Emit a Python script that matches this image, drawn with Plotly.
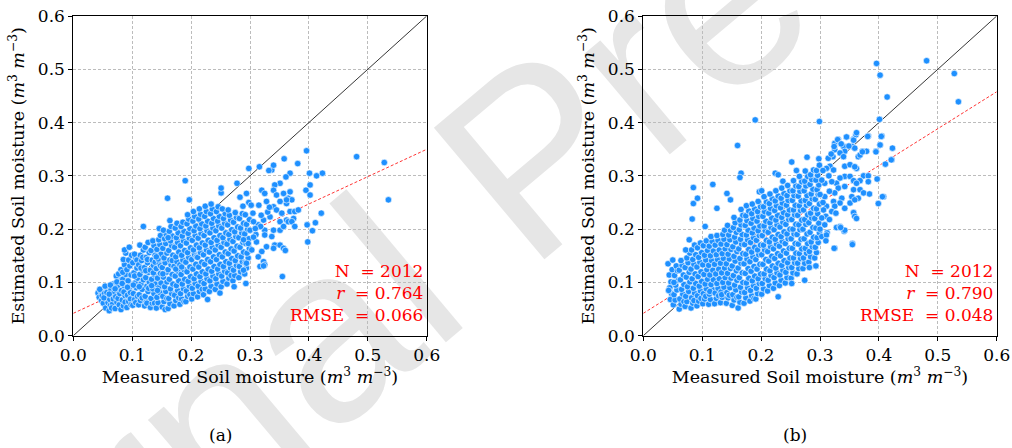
import plotly.graph_objects as go

# ---------------- data ----------------
# panel (a): (measured, estimated) pairs
pts_a = [
 (0.042,0.080),(0.044,0.072),(0.047,0.083),(0.048,0.066),(0.045,0.087),(0.049,0.075),
 (0.051,0.061),(0.053,0.079),(0.055,0.052),(0.056,0.07),(0.058,0.088),(0.054,0.093),(0.059,0.062),(0.052,0.071),(0.057,0.081),
 (0.061,0.047),(0.063,0.057),(0.062,0.068),(0.066,0.075),(0.064,0.086),(0.068,0.097),(0.067,0.06),(0.065,0.052),(0.069,0.082),(0.063,0.095),(0.061,0.078),(0.068,0.069),
 (0.071,0.051),(0.074,0.063),(0.072,0.073),(0.077,0.084),(0.075,0.093),(0.079,0.104),(0.073,0.112),(0.078,0.058),(0.076,0.07),(0.071,0.088),(0.079,0.079),(0.074,0.101),(0.077,0.116),
 (0.081,0.049),(0.085,0.056),(0.083,0.067),(0.088,0.075),(0.082,0.085),(0.086,0.094),(0.084,0.106),(0.089,0.115),(0.081,0.124),(0.087,0.133),(0.085,0.143),(0.088,0.063),(0.083,0.098),(0.086,0.082),(0.089,0.155),(0.087,0.161),(0.084,0.119),
 (0.091,0.053),(0.094,0.064),(0.092,0.076),(0.097,0.069),(0.095,0.088),(0.099,0.096),(0.093,0.103),(0.098,0.114),(0.091,0.124),(0.096,0.131),(0.094,0.142),(0.099,0.151),(0.097,0.081),(0.092,0.091),(0.095,0.166),(0.098,0.058),
 (0.101,0.057),(0.104,0.068),(0.102,0.079),(0.107,0.09),(0.105,0.099),(0.109,0.108),(0.103,0.118),(0.108,0.127),(0.101,0.137),(0.106,0.146),(0.104,0.153),(0.109,0.074),(0.106,0.062),(0.102,0.095),(0.108,0.142),(0.104,0.112),
 (0.111,0.058),(0.114,0.066),(0.112,0.077),(0.117,0.087),(0.115,0.097),(0.119,0.105),(0.113,0.115),(0.118,0.123),(0.111,0.133),(0.116,0.141),(0.114,0.151),(0.119,0.161),(0.112,0.092),(0.117,0.071),(0.115,0.127),(0.118,0.147),(0.119,0.205),(0.113,0.17),
 (0.121,0.056),(0.124,0.064),(0.122,0.074),(0.127,0.083),(0.125,0.093),(0.129,0.101),(0.123,0.109),(0.128,0.119),(0.121,0.128),(0.126,0.137),(0.124,0.147),(0.129,0.156),(0.122,0.166),(0.127,0.175),(0.125,0.061),(0.128,0.089),(0.123,0.122),(0.126,0.143),
 (0.131,0.053),(0.134,0.061),(0.132,0.07),(0.137,0.079),(0.135,0.088),(0.139,0.097),(0.133,0.106),(0.138,0.114),(0.131,0.123),(0.136,0.132),(0.134,0.142),(0.139,0.151),(0.132,0.16),(0.137,0.169),(0.135,0.178),(0.138,0.061),(0.133,0.094),(0.136,0.118),(0.139,0.138),
 (0.141,0.052),(0.144,0.062),(0.142,0.072),(0.147,0.081),(0.145,0.09),(0.149,0.099),(0.143,0.108),(0.148,0.117),(0.141,0.126),(0.146,0.135),(0.144,0.144),(0.149,0.153),(0.142,0.162),(0.147,0.171),(0.145,0.18),(0.148,0.188),(0.146,0.201),(0.143,0.085),(0.148,0.131),(0.141,0.148),
 (0.151,0.054),(0.154,0.064),(0.152,0.074),(0.157,0.083),(0.155,0.092),(0.159,0.101),(0.153,0.11),(0.158,0.119),(0.151,0.128),(0.156,0.137),(0.154,0.146),(0.159,0.155),(0.152,0.164),(0.157,0.173),(0.155,0.182),(0.158,0.19),(0.153,0.198),(0.156,0.049),(0.159,0.07),(0.152,0.116),
 (0.161,0.051),(0.164,0.06),(0.162,0.07),(0.167,0.079),(0.165,0.088),(0.169,0.097),(0.163,0.106),(0.168,0.115),(0.161,0.124),(0.166,0.133),(0.164,0.142),(0.169,0.151),(0.162,0.16),(0.167,0.169),(0.165,0.178),(0.168,0.187),(0.163,0.196),(0.166,0.205),(0.164,0.216),(0.160,0.258),(0.168,0.141),(0.161,0.184),
 (0.171,0.056),(0.174,0.066),(0.172,0.076),(0.177,0.085),(0.175,0.094),(0.179,0.103),(0.173,0.112),(0.178,0.121),(0.171,0.13),(0.176,0.139),(0.174,0.148),(0.179,0.157),(0.172,0.166),(0.177,0.175),(0.175,0.184),(0.178,0.193),(0.173,0.202),(0.176,0.211),(0.179,0.071),(0.174,0.125),
 (0.181,0.059),(0.184,0.069),(0.182,0.079),(0.187,0.088),(0.185,0.097),(0.189,0.106),(0.183,0.115),(0.188,0.124),(0.181,0.133),(0.186,0.142),(0.184,0.151),(0.189,0.16),(0.182,0.169),(0.187,0.178),(0.185,0.187),(0.188,0.196),(0.183,0.205),(0.186,0.213),(0.188,0.064),(0.184,0.129),
 (0.191,0.064),(0.194,0.074),(0.192,0.084),(0.197,0.093),(0.195,0.102),(0.199,0.111),(0.193,0.12),(0.198,0.129),(0.191,0.138),(0.196,0.147),(0.194,0.156),(0.199,0.165),(0.192,0.174),(0.197,0.183),(0.195,0.192),(0.198,0.201),(0.193,0.21),(0.196,0.219),(0.194,0.227),(0.190,0.291),(0.197,0.255),(0.198,0.077),
 (0.201,0.069),(0.204,0.079),(0.202,0.089),(0.207,0.098),(0.205,0.107),(0.209,0.116),(0.203,0.125),(0.208,0.134),(0.201,0.143),(0.206,0.152),(0.204,0.161),(0.209,0.17),(0.202,0.179),(0.207,0.188),(0.205,0.197),(0.208,0.206),(0.203,0.215),(0.206,0.224),(0.204,0.233),(0.209,0.148),
 (0.211,0.073),(0.214,0.083),(0.212,0.093),(0.217,0.102),(0.215,0.111),(0.219,0.12),(0.213,0.129),(0.218,0.138),(0.211,0.147),(0.216,0.156),(0.214,0.165),(0.219,0.174),(0.212,0.183),(0.217,0.192),(0.215,0.201),(0.218,0.21),(0.213,0.219),(0.216,0.228),(0.214,0.238),(0.219,0.087),
 (0.221,0.077),(0.224,0.088),(0.222,0.098),(0.227,0.107),(0.225,0.116),(0.229,0.125),(0.223,0.134),(0.228,0.143),(0.221,0.152),(0.226,0.161),(0.224,0.17),(0.229,0.179),(0.222,0.188),(0.227,0.197),(0.225,0.206),(0.228,0.215),(0.223,0.224),(0.226,0.233),(0.228,0.068),(0.224,0.243),
 (0.231,0.083),(0.234,0.093),(0.232,0.103),(0.237,0.112),(0.235,0.121),(0.239,0.13),(0.233,0.139),(0.238,0.148),(0.231,0.157),(0.236,0.166),(0.234,0.175),(0.239,0.184),(0.232,0.193),(0.237,0.202),(0.235,0.211),(0.238,0.22),(0.233,0.229),(0.236,0.238),(0.234,0.247),
 (0.241,0.087),(0.244,0.097),(0.242,0.107),(0.247,0.116),(0.245,0.125),(0.249,0.134),(0.243,0.143),(0.248,0.152),(0.241,0.161),(0.246,0.17),(0.244,0.179),(0.249,0.188),(0.242,0.197),(0.247,0.206),(0.245,0.215),(0.248,0.224),(0.243,0.233),(0.246,0.242),(0.249,0.08),
 (0.251,0.092),(0.254,0.102),(0.252,0.112),(0.257,0.121),(0.255,0.13),(0.259,0.139),(0.253,0.148),(0.258,0.157),(0.251,0.166),(0.256,0.175),(0.254,0.184),(0.259,0.193),(0.252,0.202),(0.257,0.211),(0.255,0.22),(0.258,0.229),(0.253,0.238),(0.251,0.268),(0.251,0.277),
 (0.261,0.097),(0.264,0.108),(0.262,0.118),(0.267,0.127),(0.265,0.136),(0.269,0.145),(0.263,0.154),(0.268,0.163),(0.261,0.172),(0.266,0.181),(0.264,0.19),(0.269,0.199),(0.262,0.208),(0.267,0.217),(0.265,0.226),(0.263,0.236),(0.268,0.113),
 (0.271,0.103),(0.274,0.113),(0.272,0.123),(0.277,0.132),(0.275,0.141),(0.279,0.15),(0.273,0.159),(0.278,0.168),(0.271,0.177),(0.276,0.186),(0.274,0.195),(0.279,0.204),(0.272,0.213),(0.277,0.222),(0.273,0.092),(0.278,0.286),(0.275,0.231),
 (0.281,0.109),(0.284,0.12),(0.282,0.13),(0.287,0.139),(0.285,0.148),(0.289,0.157),(0.283,0.166),(0.288,0.175),(0.281,0.184),(0.286,0.193),(0.284,0.202),(0.289,0.211),(0.282,0.22),(0.287,0.229),(0.283,0.26),(0.288,0.243),
 (0.291,0.116),(0.294,0.127),(0.292,0.137),(0.297,0.146),(0.295,0.155),(0.299,0.164),(0.293,0.173),(0.298,0.182),(0.291,0.191),(0.296,0.2),(0.294,0.209),(0.299,0.218),(0.292,0.227),(0.293,0.098),(0.294,0.267),(0.298,0.25),
 (0.368,0.305),(0.361,0.298),(0.337,0.311),(0.332,0.310),(0.351,0.286),(0.342,0.283),(0.320,0.273),(0.325,0.267),
 (0.340,0.273),(0.345,0.264),(0.357,0.267),(0.365,0.258),(0.371,0.255),(0.362,0.248),(0.351,0.252),(0.340,0.242),
 (0.345,0.236),(0.368,0.233),(0.376,0.233),(0.382,0.236),(0.354,0.230),(0.374,0.220),(0.362,0.217),(0.351,0.214),
 (0.334,0.223),(0.323,0.217),(0.314,0.208),(0.306,0.214),(0.300,0.198),(0.325,0.198),(0.340,0.198),(0.351,0.198),
 (0.357,0.205),(0.365,0.214),(0.371,0.214),(0.337,0.186),(0.342,0.170),(0.328,0.167),(0.320,0.158),(0.314,0.148),
 (0.323,0.139),(0.325,0.133),(0.317,0.130),(0.303,0.161),(0.297,0.173),(0.289,0.180),(0.294,0.136),(0.289,0.123),
 (0.340,0.164),(0.351,0.170),(0.357,0.164),(0.325,0.189),(0.311,0.176),(0.305,0.230),(0.315,0.245),(0.328,0.252),
 (0.310,0.190),(0.318,0.205),(0.330,0.232),(0.302,0.245),(0.306,0.185),(0.319,0.226),(0.333,0.241),(0.309,0.201),
 (0.481,0.336),(0.528,0.325),(0.535,0.255),(0.396,0.347),(0.401,0.305),(0.423,0.305),(0.413,0.300),(0.402,0.283),
 (0.395,0.273),(0.402,0.264),(0.421,0.230),(0.411,0.212),(0.406,0.197),(0.397,0.208),(0.398,0.176),(0.381,0.323),
 (0.358,0.332),(0.355,0.111),(0.340,0.320),(0.316,0.317),(0.298,0.314),(0.323,0.131),(0.360,0.160),
 (0.368,0.270),(0.362,0.255),(0.376,0.205),
]

# panel (b): (measured, estimated) pairs
pts_b = [
 (0.042,0.135),(0.044,0.114),(0.047,0.101),(0.045,0.09),(0.048,0.079),(0.046,0.068),(0.05,0.142),(0.049,0.124),(0.043,0.085),
 (0.051,0.058),(0.054,0.067),(0.052,0.077),(0.057,0.086),(0.055,0.095),(0.059,0.104),(0.053,0.113),(0.058,0.122),(0.056,0.131),(0.052,0.1),
 (0.061,0.05),(0.064,0.059),(0.062,0.069),(0.067,0.078),(0.065,0.087),(0.069,0.096),(0.063,0.105),(0.068,0.114),(0.061,0.123),(0.066,0.132),(0.064,0.141),(0.069,0.064),
 (0.071,0.055),(0.074,0.064),(0.072,0.074),(0.077,0.083),(0.075,0.092),(0.079,0.101),(0.073,0.11),(0.078,0.119),(0.071,0.128),(0.076,0.137),(0.074,0.146),(0.079,0.155),(0.072,0.161),(0.078,0.18),
 (0.081,0.052),(0.084,0.061),(0.082,0.071),(0.087,0.08),(0.085,0.089),(0.089,0.098),(0.083,0.107),(0.088,0.116),(0.081,0.125),(0.086,0.134),(0.084,0.143),(0.089,0.152),(0.082,0.161),(0.087,0.17),(0.083,0.219),(0.085,0.248),(0.085,0.278),(0.086,0.066),
 (0.091,0.056),(0.094,0.065),(0.092,0.075),(0.097,0.084),(0.095,0.093),(0.099,0.102),(0.093,0.111),(0.098,0.12),(0.091,0.129),(0.096,0.138),(0.094,0.147),(0.099,0.156),(0.092,0.165),(0.097,0.174),(0.092,0.258),(0.098,0.07),
 (0.101,0.06),(0.104,0.069),(0.102,0.079),(0.107,0.088),(0.105,0.097),(0.109,0.106),(0.103,0.115),(0.108,0.124),(0.101,0.133),(0.106,0.142),(0.104,0.151),(0.109,0.16),(0.102,0.169),(0.107,0.178),(0.105,0.205),(0.106,0.074),
 (0.111,0.059),(0.114,0.068),(0.112,0.078),(0.117,0.087),(0.115,0.096),(0.119,0.105),(0.113,0.114),(0.118,0.123),(0.111,0.132),(0.116,0.141),(0.114,0.15),(0.119,0.159),(0.112,0.168),(0.117,0.177),(0.115,0.186),(0.118,0.284),(0.113,0.083),
 (0.121,0.06),(0.124,0.07),(0.122,0.08),(0.127,0.089),(0.125,0.098),(0.129,0.107),(0.123,0.116),(0.128,0.125),(0.121,0.134),(0.126,0.143),(0.124,0.152),(0.129,0.161),(0.122,0.17),(0.127,0.179),(0.125,0.188),(0.125,0.239),(0.128,0.075),
 (0.131,0.062),(0.134,0.072),(0.132,0.082),(0.137,0.091),(0.135,0.1),(0.139,0.109),(0.133,0.118),(0.138,0.127),(0.131,0.136),(0.136,0.145),(0.134,0.154),(0.139,0.163),(0.132,0.172),(0.137,0.181),(0.135,0.19),(0.138,0.198),(0.133,0.077),
 (0.141,0.061),(0.144,0.071),(0.142,0.081),(0.147,0.09),(0.145,0.099),(0.149,0.108),(0.143,0.117),(0.148,0.126),(0.141,0.135),(0.146,0.144),(0.144,0.153),(0.149,0.162),(0.142,0.171),(0.147,0.18),(0.145,0.189),(0.148,0.198),(0.143,0.207),(0.142,0.267),(0.148,0.255),(0.146,0.076),
 (0.151,0.057),(0.154,0.067),(0.152,0.077),(0.157,0.086),(0.155,0.095),(0.159,0.104),(0.153,0.113),(0.158,0.122),(0.151,0.131),(0.156,0.14),(0.154,0.149),(0.159,0.158),(0.152,0.167),(0.157,0.176),(0.155,0.185),(0.158,0.194),(0.153,0.203),(0.156,0.212),(0.154,0.222),(0.159,0.072),
 (0.161,0.052),(0.164,0.063),(0.162,0.073),(0.167,0.082),(0.165,0.091),(0.169,0.1),(0.163,0.109),(0.168,0.118),(0.161,0.127),(0.166,0.136),(0.164,0.145),(0.169,0.154),(0.162,0.163),(0.167,0.172),(0.165,0.181),(0.168,0.19),(0.163,0.199),(0.166,0.208),(0.164,0.217),(0.169,0.226),(0.166,0.237),(0.160,0.357),(0.166,0.305),(0.164,0.297),
 (0.171,0.061),(0.174,0.071),(0.172,0.081),(0.177,0.09),(0.175,0.099),(0.179,0.108),(0.173,0.117),(0.178,0.126),(0.171,0.135),(0.176,0.144),(0.174,0.153),(0.179,0.162),(0.172,0.171),(0.177,0.18),(0.175,0.189),(0.178,0.198),(0.173,0.207),(0.176,0.216),(0.174,0.225),(0.179,0.234),(0.175,0.244),
 (0.181,0.065),(0.184,0.075),(0.182,0.085),(0.187,0.094),(0.185,0.103),(0.189,0.112),(0.183,0.121),(0.188,0.13),(0.181,0.139),(0.186,0.148),(0.184,0.157),(0.189,0.166),(0.182,0.175),(0.187,0.184),(0.185,0.193),(0.188,0.202),(0.183,0.211),(0.186,0.22),(0.184,0.229),(0.189,0.238),(0.185,0.247),(0.190,0.405),(0.188,0.07),
 (0.191,0.069),(0.194,0.079),(0.192,0.089),(0.197,0.098),(0.195,0.107),(0.199,0.116),(0.193,0.125),(0.198,0.134),(0.191,0.143),(0.196,0.152),(0.194,0.161),(0.199,0.17),(0.192,0.179),(0.197,0.188),(0.195,0.197),(0.198,0.206),(0.193,0.215),(0.196,0.224),(0.194,0.233),(0.199,0.242),(0.195,0.252),(0.197,0.27),
 (0.201,0.078),(0.204,0.088),(0.202,0.098),(0.207,0.107),(0.205,0.116),(0.209,0.125),(0.203,0.134),(0.208,0.143),(0.201,0.152),(0.206,0.161),(0.204,0.17),(0.209,0.179),(0.202,0.188),(0.207,0.197),(0.205,0.206),(0.208,0.215),(0.203,0.224),(0.206,0.233),(0.204,0.242),(0.209,0.251),(0.205,0.261),(0.201,0.272),
 (0.211,0.084),(0.214,0.094),(0.212,0.104),(0.217,0.113),(0.215,0.122),(0.219,0.131),(0.213,0.14),(0.218,0.149),(0.211,0.158),(0.216,0.167),(0.214,0.176),(0.219,0.185),(0.212,0.194),(0.217,0.203),(0.215,0.212),(0.218,0.221),(0.213,0.23),(0.216,0.239),(0.214,0.248),(0.219,0.257),(0.215,0.266),
 (0.221,0.089),(0.224,0.099),(0.222,0.109),(0.227,0.118),(0.225,0.127),(0.229,0.136),(0.223,0.145),(0.228,0.154),(0.221,0.163),(0.226,0.172),(0.224,0.181),(0.229,0.19),(0.222,0.199),(0.227,0.208),(0.225,0.217),(0.228,0.226),(0.223,0.235),(0.226,0.244),(0.224,0.253),(0.229,0.262),(0.225,0.272),(0.224,0.305),(0.229,0.302),(0.229,0.073),
 (0.231,0.094),(0.234,0.104),(0.232,0.114),(0.237,0.123),(0.235,0.132),(0.239,0.141),(0.233,0.15),(0.238,0.159),(0.231,0.168),(0.236,0.177),(0.234,0.186),(0.239,0.195),(0.232,0.204),(0.237,0.213),(0.235,0.222),(0.238,0.231),(0.233,0.24),(0.236,0.249),(0.234,0.258),(0.239,0.267),(0.235,0.277),(0.237,0.29),
 (0.241,0.099),(0.244,0.109),(0.242,0.119),(0.247,0.128),(0.245,0.137),(0.249,0.146),(0.243,0.155),(0.248,0.164),(0.241,0.173),(0.246,0.182),(0.244,0.191),(0.249,0.2),(0.242,0.209),(0.247,0.218),(0.245,0.227),(0.248,0.236),(0.243,0.245),(0.246,0.254),(0.244,0.263),(0.249,0.272),(0.245,0.282),
 (0.251,0.108),(0.254,0.118),(0.252,0.128),(0.257,0.137),(0.255,0.146),(0.259,0.155),(0.253,0.164),(0.258,0.173),(0.251,0.182),(0.256,0.191),(0.254,0.2),(0.259,0.209),(0.252,0.218),(0.257,0.227),(0.255,0.236),(0.258,0.245),(0.253,0.254),(0.256,0.263),(0.254,0.272),(0.259,0.281),(0.255,0.291),(0.252,0.326),(0.252,0.098),
 (0.261,0.116),(0.264,0.126),(0.262,0.136),(0.267,0.145),(0.265,0.154),(0.269,0.163),(0.263,0.172),(0.268,0.181),(0.261,0.19),(0.266,0.199),(0.264,0.208),(0.269,0.217),(0.262,0.226),(0.267,0.235),(0.265,0.244),(0.268,0.253),(0.263,0.262),(0.266,0.271),(0.264,0.28),(0.269,0.289),(0.265,0.299),(0.260,0.31),
 (0.271,0.126),(0.274,0.136),(0.272,0.146),(0.277,0.155),(0.275,0.164),(0.279,0.173),(0.273,0.182),(0.278,0.191),(0.271,0.2),(0.276,0.209),(0.274,0.218),(0.279,0.227),(0.272,0.236),(0.277,0.245),(0.275,0.254),(0.278,0.263),(0.273,0.272),(0.276,0.281),(0.274,0.29),(0.279,0.299),(0.275,0.309),(0.274,0.104),(0.278,0.335),
 (0.281,0.138),(0.284,0.148),(0.282,0.158),(0.287,0.167),(0.285,0.176),(0.289,0.185),(0.283,0.194),(0.288,0.203),(0.281,0.212),(0.286,0.221),(0.284,0.23),(0.289,0.239),(0.282,0.248),(0.287,0.257),(0.285,0.266),(0.288,0.275),(0.283,0.284),(0.286,0.293),(0.284,0.302),(0.289,0.311),(0.282,0.128),
 (0.291,0.146),(0.294,0.156),(0.292,0.166),(0.297,0.175),(0.295,0.184),(0.299,0.193),(0.293,0.202),(0.298,0.211),(0.291,0.22),(0.296,0.229),(0.294,0.238),(0.299,0.247),(0.292,0.256),(0.297,0.265),(0.295,0.274),(0.298,0.283),(0.293,0.292),(0.296,0.301),(0.294,0.31),(0.293,0.131),(0.298,0.332),(0.299,0.32),
 (0.325,0.361),(0.331,0.368),(0.345,0.373),(0.357,0.369),(0.361,0.377),(0.362,0.381),(0.382,0.375),(0.340,0.355),
 (0.355,0.355),(0.322,0.336),(0.314,0.333),(0.359,0.352),(0.342,0.346),(0.372,0.346),(0.379,0.346),(0.395,0.346),
 (0.365,0.336),(0.368,0.339),(0.405,0.375),(0.402,0.358),(0.423,0.352),(0.422,0.330),(0.411,0.322),(0.325,0.349),
 (0.334,0.343),(0.317,0.318),(0.323,0.311),(0.311,0.314),(0.342,0.318),(0.351,0.321),(0.362,0.314),(0.342,0.299),
 (0.351,0.299),(0.374,0.300),(0.382,0.300),(0.368,0.291),(0.357,0.291),(0.362,0.286),(0.382,0.289),(0.334,0.296),
 (0.328,0.286),(0.320,0.289),(0.308,0.286),(0.303,0.292),(0.331,0.277),(0.342,0.280),(0.357,0.274),(0.368,0.274),
 (0.374,0.268),(0.384,0.266),(0.325,0.268),(0.316,0.271),(0.308,0.261),(0.337,0.258),(0.354,0.261),(0.365,0.258),
 (0.323,0.252),(0.334,0.249),(0.351,0.249),(0.359,0.255),(0.311,0.243),(0.325,0.243),(0.342,0.239),(0.306,0.236),
 (0.320,0.233),(0.357,0.231),(0.359,0.224),(0.327,0.230),(0.310,0.224),(0.303,0.221),(0.316,0.218),(0.308,0.208),
 (0.328,0.203),(0.334,0.205),(0.341,0.196),(0.312,0.193),(0.303,0.186),(0.311,0.189),(0.325,0.164),(0.355,0.173),
 (0.399,0.248),(0.408,0.261),(0.305,0.250),(0.300,0.265),(0.315,0.300),(0.305,0.310),(0.300,0.200),(0.310,0.178),
 (0.396,0.511),(0.481,0.516),(0.528,0.492),(0.535,0.439),(0.402,0.489),(0.414,0.448),(0.401,0.406),(0.404,0.374),
 (0.402,0.358),(0.395,0.345),(0.421,0.330),(0.397,0.294),(0.406,0.261),(0.299,0.402),
 (0.293,0.131),(0.324,0.164),(0.355,0.171),(0.362,0.220),(0.342,0.198),(0.335,0.203),
 (0.345,0.373),(0.330,0.368),(0.357,0.367),(0.381,0.374),(0.372,0.345),(0.349,0.356),(0.336,0.360),
 (0.319,0.341),(0.324,0.355),(0.340,0.336),(0.359,0.317),
]

# fitted regression lines: (intercept, slope)
fit_a = (0.042, 0.513)
fit_b = (0.042, 0.693)
one_to_one = [0.0, 0.6]
line_ends = [0.0, 0.6]

stats_a = ("2012", "0.764", "0.066")
stats_b = ("2012", "0.790", "0.048")
panel_labels = ["(a)", "(b)"]
tick_vals = [0.0, 0.1, 0.2, 0.3, 0.4, 0.5, 0.6]

# ---------------- figure ----------------
W, H = 1012, 448
SERIF = "DejaVu Serif"
BLUE = "#1E90FF"

fig = go.Figure()

def add_panel(pts, fit, xa, ya):
    fig.add_trace(go.Scatter(x=one_to_one, y=one_to_one, mode="lines",
                             line=dict(color="black", width=0.8),
                             xaxis=xa, yaxis=ya, showlegend=False, hoverinfo="skip"))
    fig.add_trace(go.Scatter(x=line_ends, y=[fit[0] + fit[1] * v for v in line_ends],
                             mode="lines", line=dict(color="red", width=0.8, dash="3px,2px"),
                             xaxis=xa, yaxis=ya, showlegend=False, hoverinfo="skip"))
    fig.add_trace(go.Scatter(x=[p[0] for p in pts], y=[p[1] for p in pts], mode="markers",
                             marker=dict(color=BLUE, size=6.5, line=dict(color="white", width=0.6)),
                             xaxis=xa, yaxis=ya, showlegend=False))

add_panel(pts_a, fit_a, "x", "y")
add_panel(pts_b, fit_b, "x2", "y2")

unit = "(<i>m</i><sup>3</sup> <i>m</i><sup>\u22123</sup>)"
TICKFONT = dict(family=SERIF, size=17, color="black")
TITLEFONT = dict(family=SERIF, size=17.5, color="black")

def axis(domain, anchor, title, standoff):
    return dict(range=[0, 0.6], tickvals=tick_vals, ticktext=[f"{v:.1f}" for v in tick_vals],
                showline=True, mirror=True, linecolor="black", linewidth=1,
                ticks="outside", ticklen=4, tickwidth=1, tickcolor="black",
                showgrid=True, gridcolor="#bcbcbc", griddash="3px,2px", gridwidth=0.7,
                zeroline=False, tickfont=TICKFONT, fixedrange=True, automargin=False,
                domain=domain, anchor=anchor,
                title=dict(text=title, standoff=standoff, font=TITLEFONT))

ydom = [(H - 335.7) / H, (H - 16) / H]
fig.update_layout(
    width=W, height=H, margin=dict(l=0, r=0, t=0, b=0, autoexpand=False),
    paper_bgcolor="white", plot_bgcolor="rgba(0,0,0,0)",
    xaxis=axis([73.3 / W, 426.7 / W], "y", "Measured Soil moisture " + unit, 6),
    yaxis=axis(ydom, "x", "Estimated Soil moisture " + unit, 8),
    xaxis2=axis([643.3 / W, 996.7 / W], "y2", "Measured Soil moisture " + unit, 6),
    yaxis2=axis(ydom, "x2", "Estimated Soil moisture " + unit, 8),
)

NB = "\u00a0"
for st, xr, yr in [(stats_a, "x domain", "y domain"), (stats_b, "x2 domain", "y2 domain")]:
    txt = (f"N{NB}{NB}= {st[0]}<br><i>r</i>{NB}{NB}= {st[1]}<br>RMSE{NB}{NB}= {st[2]}")
    fig.add_annotation(x=0.994, y=0.134, xref=xr, yref=yr, xanchor="right", yanchor="middle",
                       align="right", showarrow=False, text=txt,
                       font=dict(family=SERIF, size=17, color="red"))

for lab, px in zip(panel_labels, [220, 795]):
    fig.add_annotation(x=px / W, y=(H - 435) / H, xref="paper", yref="paper",
                       xanchor="center", yanchor="middle", showarrow=False, text=lab,
                       font=dict(family=SERIF, size=17, color="black"))

# watermark behind everything
fig.add_shape(type="rect", xref="paper", yref="paper", x0=0.50, x1=0.52, y0=0.68, y1=0.70,
              line=dict(width=0), fillcolor="rgba(0,0,0,0)", layer="below",
              label=dict(text="Journal Pre-proof", textangle=-40, textposition="middle center",
                         font=dict(family="Liberation Sans", size=250, color="#e6e6e6")))

fig.write_html("out.html")
